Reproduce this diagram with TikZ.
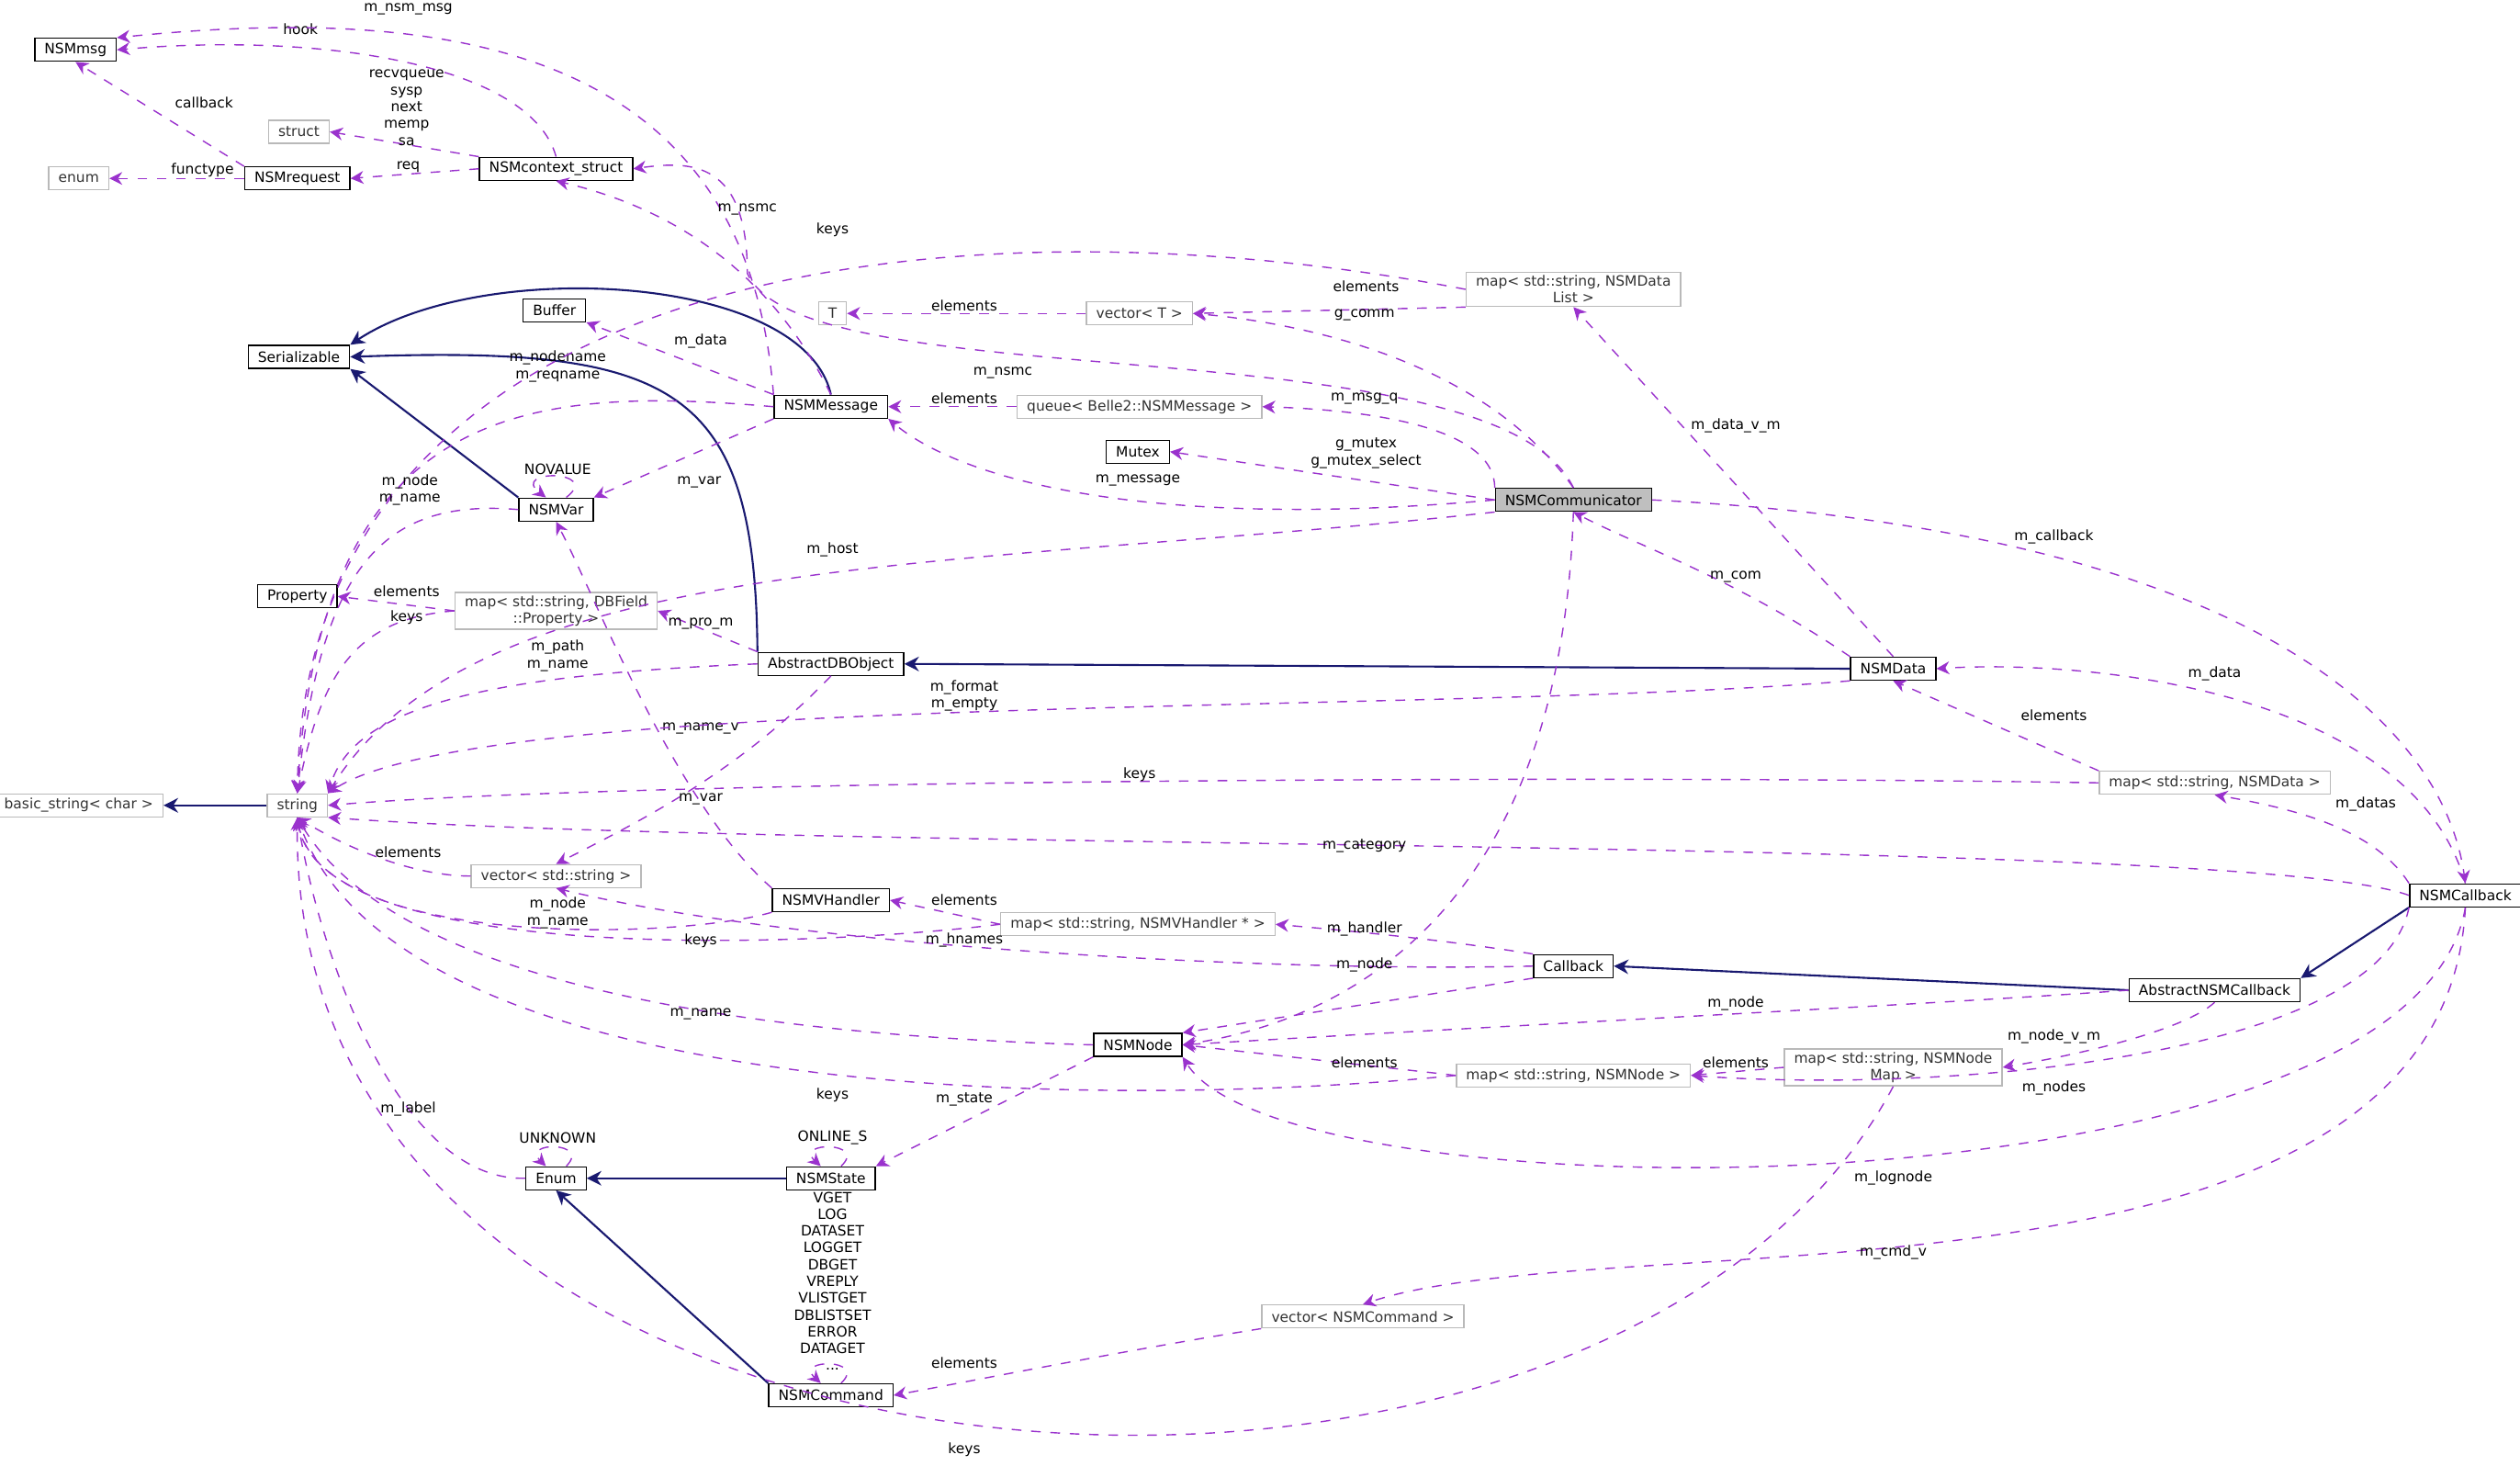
\documentclass[tikz,border=0pt]{standalone}
\usepackage{fontspec}
\setmainfont{DejaVu Sans}
\usetikzlibrary{positioning,calc,arrows.meta}
\definecolor{usecol}{HTML}{9A32CD}
\definecolor{inhcol}{HTML}{191970}
\tikzset{
  cls/.style={draw=black,fill=white,font=\fontsize{4.4}{5.2}\selectfont,minimum height=0.25cm,inner xsep=3pt,inner ysep=1pt},
  tpl/.style={cls,draw=gray!55,text=black!80},
  use/.style={draw=usecol,dashed,-{Stealth[length=4pt,width=4pt]},thin},
  inh/.style={draw=inhcol,-{Stealth[length=4.5pt,width=4.5pt]},semithick},
  lbl/.style={font=\fontsize{4.4}{5.2}\selectfont,inner sep=0pt,align=center}
}
\begin{document}
\begin{tikzpicture}[x=0.0175cm,y=-0.0175cm]
  \useasboundingbox (0,0) rectangle (1568,912);
  % classes
  \node[cls] (nsmmsg) at (47,31) {NSMmsg};
  \node[tpl] (struct) at (186,82) {struct};
  \node[tpl] (enum) at (49,111) {enum};
  \node[cls] (req) at (185,111) {NSMrequest};
  \node[cls] (ctx) at (346,105) {NSMcontext\_struct};
  \node[cls] (buf) at (345,193) {Buffer};
  \node[cls] (ser) at (186,222) {Serializable};
  \node[tpl] (tt) at (518,195) {T};
  \node[tpl] (vect) at (709,195) {vector< T >};
  \node[tpl,align=center] (maplist) at (979,180) {map< std::string, NSMData\\List >};
  \node[cls] (msg) at (517,253) {NSMMessage};
  \node[tpl] (queue) at (709,253) {queue< Belle2::NSMMessage >};
  \node[cls] (mutex) at (708,281) {Mutex};
  \node[cls,fill=gray!50] (comm) at (979,311) {NSMCommunicator};
  \node[cls] (var) at (346,317) {NSMVar};
  \node[cls] (prop) at (185,371) {Property};
  \node[tpl,align=center] (mapdb) at (346,380) {map< std::string, DBField\\::Property >};
  \node[cls] (adbo) at (517,413) {AbstractDBObject};
  \node[cls] (data) at (1178,416) {NSMData};
  \node[tpl] (bstr) at (49,501) {basic\_string< char >};
  \node[tpl,minimum width=0.5cm] (str) at (185,501) {string};
  \node[tpl] (mapdata) at (1378,487) {map< std::string, NSMData >};
  \node[tpl] (vecstr) at (346,545) {vector< std::string >};
  \node[cls] (vh) at (517,560) {NSMVHandler};
  \node[tpl] (mapvh) at (708,575) {map< std::string, NSMVHandler * >};
  \node[cls] (cb) at (1534,557) {NSMCallback};
  \node[cls] (callback) at (979,601) {Callback};
  \node[cls] (acb) at (1378,616) {AbstractNSMCallback};
  \node[cls] (node) at (708,650) {NSMNode};
  \node[tpl] (mapnode) at (979,669) {map< std::string, NSMNode >};
  \node[tpl,align=center] (mapnm) at (1178,664) {map< std::string, NSMNode\\Map >};
  \node[cls] (enm) at (346,733) {Enum};
  \node[cls] (state) at (517,733) {NSMState};
  \node[tpl] (veccmd) at (848,819) {vector< NSMCommand >};
  \node[cls] (cmd) at (517,868) {NSMCommand};

  % inheritance
  \draw[inh] (msg.north) .. controls (500,170) and (300,160) .. (ser.north east);
  \draw[inh] (adbo.north west) .. controls (470,240) and (420,215) .. (ser.east);
  \draw[inh] (var.north west) -- (ser.south east);
  \draw[inh] (data.west) -- (adbo.east);
  \draw[inh] (str.west) -- (bstr.east);
  \draw[inh] (acb.west) -- (callback.east);
  \draw[inh] (cb.south west) -- (acb.north east);
  \draw[inh] (state.west) -- (enm.east);
  \draw[inh] (cmd.north west) -- (enm.south);

  % usage
  \draw[use] (ctx.north) .. controls (330,40) and (200,20) .. (nsmmsg.east);
  \node[lbl] at (187,18) {hook};
  \draw[use] (req.north west) -- (nsmmsg.south);
  \node[lbl] at (127,64) {callback};
  \draw[use] (ctx.north west) -- (struct.east);
  \node[lbl] at (253,67) {recvqueue\\sysp\\next\\memp\\sa};
  \draw[use] (ctx.west) -- (req.east);
  \node[lbl] at (254,104) {req};
  \draw[use] (req.west) -- (enum.east);
  \node[lbl] at (126,106) {functype};
  \draw[use] (msg.north west) .. controls (465,40) and (300,0) .. (nsmmsg.north east);
  \node[lbl] at (254,6) {m\_nsm\_msg};
  \draw[use] (msg.north) .. controls (480,170) and (420,130) .. (ctx.south);
  \node[lbl] at (465,130) {m\_nsmc};
  \draw[use] (comm.north) .. controls (930,200) and (500,250) .. (465,170) .. controls (465,100) and (430,100) .. (ctx.east);
  \node[lbl] at (624,232) {m\_nsmc};
  \draw[use] (msg.north west) -- (buf.south east);
  \node[lbl] at (436,212) {m\_data};
  \draw[use] (msg.west) .. controls (330,240) and (200,250) .. (str.north);
  \node[lbl] at (347,228) {m\_nodename\\m\_reqname};
  \draw[use] (msg.south west) -- (var.north east);
  \node[lbl] at (435,300) {m\_var};
  \draw[use] (maplist.west) .. controls (600,120) and (190,160) .. (str.north);
  \node[lbl] at (518,143) {keys};
  \draw[use] (maplist.south west) -- (vect.east);
  \node[lbl] at (850,178) {elements};
  \draw[use] (vect.west) -- (tt.east);
  \node[lbl] at (600,190) {elements};
  \draw[use] (comm.north) .. controls (920,220) and (800,200) .. (vect.east);
  \node[lbl] at (849,196) {g\_comm};
  \draw[use] (queue.west) -- (msg.east);
  \node[lbl] at (600,248) {elements};
  \draw[use] (comm.north west) .. controls (930,265) and (850,255) .. (queue.east);
  \node[lbl] at (849,248) {m\_msg\_q};
  \draw[use] (comm.west) -- (mutex.east);
  \node[lbl] at (850,282) {g\_mutex\\g\_mutex\_select};
  \draw[use] (comm.west) .. controls (720,330) and (600,300) .. (msg.south east);
  \node[lbl] at (708,299) {m\_message};
  \draw[use] (comm.south west) .. controls (600,355) and (300,340) .. (str.north east);
  \node[lbl] at (518,342) {m\_host};
  \draw[use] (comm.south) .. controls (970,600) and (800,640) .. (node.east);
  \draw[use] (var.50) .. controls (375,292) and (317,292) .. (var.130);
  \node[lbl] at (347,292) {NOVALUE};
  \draw[use] (var.west) .. controls (240,310) and (200,350) .. (str.north);
  \node[lbl] at (255,305) {m\_node\\m\_name};
  \draw[use] (mapdb.west) -- (prop.east);
  \node[lbl] at (253,368) {elements};
  \draw[use] (mapdb.west) .. controls (220,385) and (200,420) .. (str.north);
  \node[lbl] at (253,384) {keys};
  \draw[use] (adbo.north west) -- (mapdb.east);
  \node[lbl] at (436,388) {m\_pro\_m};
  \draw[use] (adbo.west) .. controls (300,420) and (220,440) .. (str.north east);
  \node[lbl] at (347,408) {m\_path\\m\_name};
  \draw[use] (adbo.south) .. controls (460,480) and (400,510) .. (vecstr.north);
  \node[lbl] at (436,453) {m\_name\_v};
  \draw[use] (data.north west) .. controls (1080,360) and (1020,340) .. (comm.south);
  \node[lbl] at (1080,359) {m\_com};
  \draw[use] (data.north) -- (maplist.south);
  \node[lbl] at (1080,265) {m\_data\_v\_m};
  \draw[use] (data.south west) .. controls (900,445) and (300,430) .. (str.north east);
  \node[lbl] at (600,433) {m\_format\\m\_empty};
  \draw[use] (comm.east) .. controls (1400,330) and (1520,450) .. (cb.north);
  \node[lbl] at (1278,334) {m\_callback};
  \draw[use] (cb.north) .. controls (1500,430) and (1300,410) .. (data.east);
  \node[lbl] at (1378,419) {m\_data};
  \draw[use] (mapdata.north west) -- (data.south);
  \node[lbl] at (1278,445) {elements};
  \draw[use] (mapdata.west) .. controls (1000,482) and (400,485) .. (str.east);
  \node[lbl] at (709,482) {keys};
  \draw[use] (cb.north west) .. controls (1480,520) and (1440,505) .. (mapdata.south);
  \node[lbl] at (1472,500) {m\_datas};
  \draw[use] (cb.west) .. controls (1400,520) and (500,530) .. (str.south east);
  \node[lbl] at (849,526) {m\_category};
  \draw[use] (vecstr.west) .. controls (260,545) and (220,530) .. (str.south);
  \node[lbl] at (254,530) {elements};
  \draw[use] (vh.north west) .. controls (420,500) and (370,370) .. (var.south);
  \node[lbl] at (436,497) {m\_var};
  \draw[use] (vh.south west) .. controls (420,585) and (200,590) .. (str.south);
  \node[lbl] at (347,568) {m\_node\\m\_name};
  \draw[use] (mapvh.west) -- (vh.east);
  \node[lbl] at (600,560) {elements};
  \draw[use] (mapvh.west) .. controls (500,590) and (200,600) .. (str.south);
  \node[lbl] at (436,585) {keys};
  \draw[use] (callback.north west) .. controls (900,585) and (850,580) .. (mapvh.east);
  \node[lbl] at (849,578) {m\_handler};
  \draw[use] (callback.west) .. controls (800,605) and (500,590) .. (vecstr.south);
  \node[lbl] at (600,585) {m\_hnames};
  \draw[use] (callback.south west) -- (node.north east);
  \node[lbl] at (849,600) {m\_node};
  \draw[use] (acb.west) .. controls (1200,625) and (900,640) .. (node.east);
  \node[lbl] at (1080,624) {m\_node};
  \draw[use] (acb.south) .. controls (1360,640) and (1300,655) .. (mapnm.east);
  \node[lbl] at (1278,645) {m\_node\_v\_m};
  \draw[use] (node.west) .. controls (500,645) and (250,620) .. (str.south);
  \node[lbl] at (436,631) {m\_name};
  \draw[use] (node.south west) -- (state.north east);
  \node[lbl] at (600,684) {m\_state};
  \draw[use] (mapnode.west) -- (node.east);
  \node[lbl] at (849,661) {elements};
  \draw[use] (mapnode.west) .. controls (700,690) and (250,690) .. (str.south);
  \node[lbl] at (518,681) {keys};
  \draw[use] (mapnm.west) -- (mapnode.east);
  \node[lbl] at (1080,661) {elements};
  \draw[use] (mapnm.south) .. controls (1000,1010) and (180,960) .. (str.south);
  \node[lbl] at (600,902) {keys};
  \draw[use] (cb.south west) .. controls (1480,660) and (1200,680) .. (mapnode.east);
  \node[lbl] at (1278,677) {m\_nodes};
  \draw[use] (cb.south) .. controls (1500,760) and (800,760) .. (node.south east);
  \node[lbl] at (1178,733) {m\_lognode};
  \draw[use] (cb.south) .. controls (1520,830) and (1000,760) .. (veccmd.north);
  \node[lbl] at (1178,779) {m\_cmd\_v};
  \draw[use] (enm.50) .. controls (368,710) and (324,710) .. (enm.130);
  \node[lbl] at (347,708) {UNKNOWN};
  \draw[use] (enm.west) .. controls (250,735) and (200,600) .. (str.south);
  \node[lbl] at (254,690) {m\_label};
  \draw[use] (state.50) .. controls (540,710) and (494,710) .. (state.130);
  \node[lbl] at (518,708) {ONLINE\_S};
  \draw[use] (cmd.50) .. controls (540,845) and (494,845) .. (cmd.130);
  \node[lbl] at (518,797) {VGET\\LOG\\DATASET\\LOGGET\\DBGET\\VREPLY\\VLISTGET\\DBLISTSET\\ERROR\\DATAGET\\...};
  \draw[use] (veccmd.south west) .. controls (700,840) and (600,860) .. (cmd.east);
  \node[lbl] at (600,848) {elements};
\end{tikzpicture}
\end{document}
